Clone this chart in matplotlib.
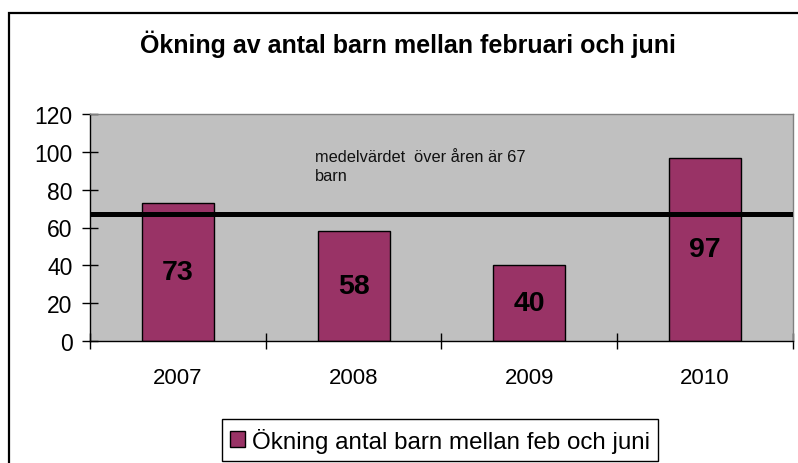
import matplotlib
matplotlib.use("Agg")
import matplotlib.pyplot as plt
from matplotlib.patches import Rectangle

plt.rcParams['font.family'] = ['Liberation Sans', 'DejaVu Sans']

# data
years = ['2007', '2008', '2009', '2010']
increase = [73, 58, 40, 97]
mean_value = 67
yticks = [0, 20, 40, 60, 80, 100, 120]

W, H = 798, 464
fig = plt.figure(figsize=(W / 100, H / 100), dpi=100)

# outer chart border (cut off at right/bottom like the original)
fig.patches.append(Rectangle((9 / W, -0.1), 1.2, (H - 14) / H + 0.1,
                             transform=fig.transFigure, fill=False,
                             edgecolor='black', linewidth=1.6))

ax = fig.add_axes([90 / W, (H - 342) / H, 703 / W, 227 / H])
ax.set_facecolor('#C0C0C0')

x = range(len(years))
bars = ax.bar(x, increase, width=0.41, color='#993366', edgecolor='black',
              linewidth=1, label='Ökning antal barn mellan feb och juni', zorder=2)
ax.axhline(mean_value, color='black', linewidth=3.6, zorder=3)

for xi, v in zip(x, increase):
    ax.text(xi, v / 2, str(v), ha='center', va='center', fontsize=20.5,
            fontweight='bold', zorder=4)

ax.text(0.78, 101.5, 'medelvärdet  över åren är 67\nbarn', fontsize=11.8,
        ha='left', va='top', linespacing=1.3, color='#111111', zorder=4)

ax.set_xlim(-0.5, 3.5)
ax.set_ylim(0, 120)
ax.set_yticks(yticks)
ax.set_xticks(x)
ax.set_xticklabels(years)
ax.set_xticks([-0.5, 0.5, 1.5, 2.5, 3.5], minor=True)
ax.tick_params(axis='x', which='major', length=0, labelsize=16, pad=19)
ax.tick_params(axis='x', which='minor', direction='inout', length=11, width=1)
ax.tick_params(axis='y', direction='inout', length=11, width=1, labelsize=16.5, pad=7)

for side in ['top', 'right']:
    ax.spines[side].set_color('#808080')
    ax.spines[side].set_linewidth(1)
for side in ['left', 'bottom']:
    ax.spines[side].set_color('black')
    ax.spines[side].set_linewidth(1)

fig.text(408 / W, 1 - 44 / H, 'Ökning av antal barn mellan februari och juni',
         ha='center', va='center', fontsize=18, fontweight='bold')

leg = ax.legend(loc='center', bbox_to_anchor=(440 / W, 1 - 441 / H),
                bbox_transform=fig.transFigure, fontsize=17.4, frameon=True,
                fancybox=False, edgecolor='black', framealpha=1,
                handlelength=0.6, handleheight=0.6, handletextpad=0.3,
                borderpad=0.35, borderaxespad=0)
leg.get_frame().set_linewidth(1)

fig.savefig('out.png', dpi=100)
